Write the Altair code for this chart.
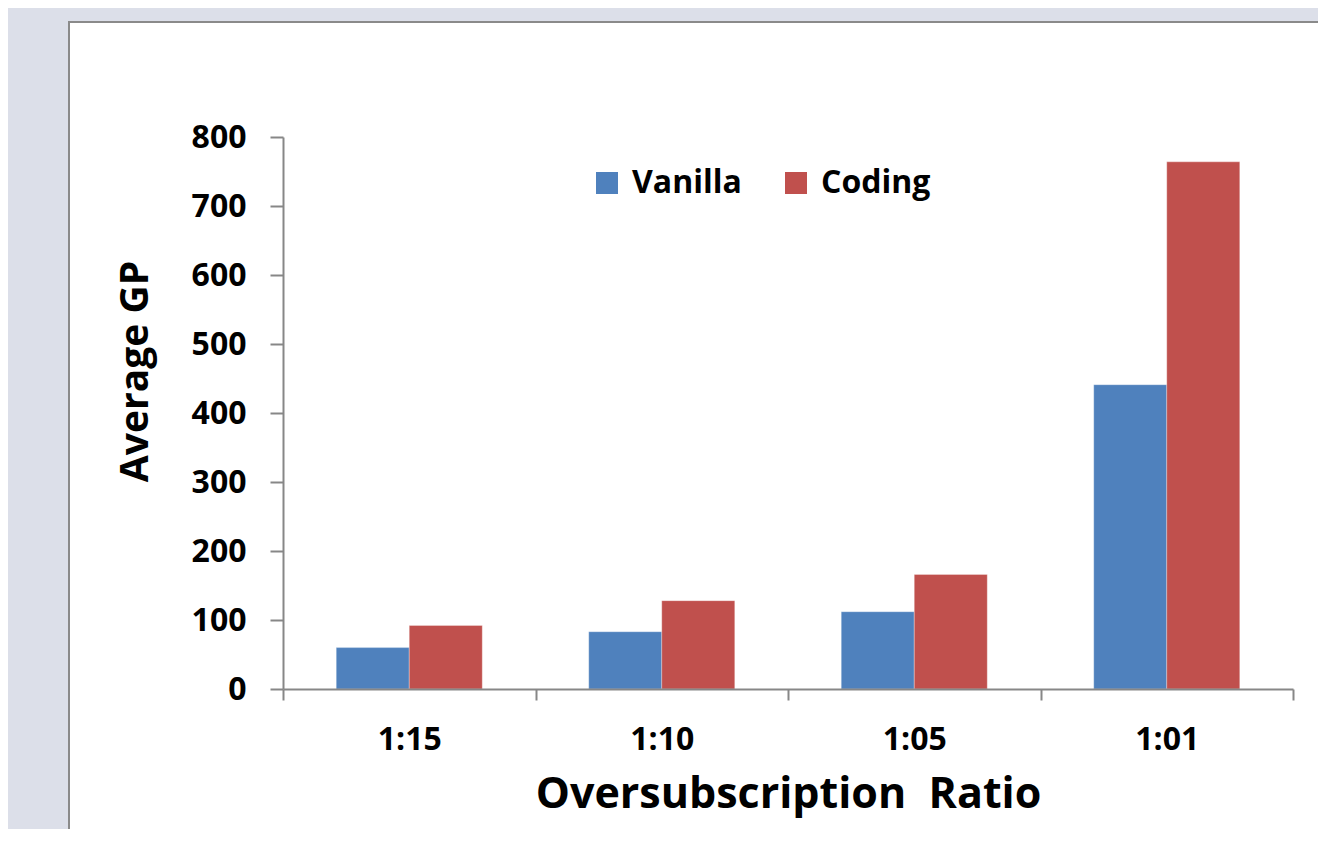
import altair as alt
import pandas as pd

ratios = ["1:15", "1:10", "1:05", "1:01"]
vanilla = [60, 83, 112, 441]
coding = [92, 128, 166, 764]
series = ["Vanilla", "Coding"]
colors = ["#4f81bd", "#c0504d"]
y_ticks = [0, 100, 200, 300, 400, 500, 600, 700, 800]

rows = []
for r, v, c in zip(ratios, vanilla, coding):
    rows.append({"ratio": r, "series": "Vanilla", "value": v})
    rows.append({"ratio": r, "series": "Coding", "value": c})
df = pd.DataFrame(rows)

FONT = "Open Sans"
AXIS_GRAY = "#878787"

panel = alt.Chart(pd.DataFrame({"p": [1]})).mark_rect(
    fill="white", stroke="#8a8a8a", strokeWidth=2
).encode(
    x=alt.value(-214), x2=alt.value(1060),
    y=alt.value(-115), y2=alt.value(740),
)

bars = alt.Chart(df).mark_bar(
    stroke="white", strokeOpacity=0.3, strokeWidth=1
).encode(
    x=alt.X("ratio:N", sort=ratios,
            scale=alt.Scale(paddingInner=0, paddingOuter=0),
            axis=alt.Axis(title="Oversubscription\u00a0\u00a0Ratio", labelAngle=0,
                          tickBand="extent", tickSize=11, labelPadding=24,
                          labelFontSize=32, titleFontSize=43, titlePadding=18,
                          zindex=2)),
    xOffset=alt.XOffset("series:N", sort=series,
                        scale=alt.Scale(paddingInner=0, paddingOuter=0.729)),
    y=alt.Y("value:Q", scale=alt.Scale(domain=[0, 800], nice=False),
            axis=alt.Axis(title="Average GP", values=y_ticks, grid=False,
                          tickSize=13, labelPadding=24,
                          labelFontSize=32, titleFontSize=39,
                          titleX=-128, titleY=234, zindex=2)),
    color=alt.Color("series:N", sort=series,
                    scale=alt.Scale(domain=series, range=colors),
                    legend=alt.Legend(title=None, orient="none",
                                      direction="horizontal",
                                      legendX=308, legendY=30,
                                      symbolType="square", symbolSize=484,
                                      symbolStrokeWidth=0,
                                      labelFontSize=32, labelFont=FONT,
                                      labelFontWeight="bold",
                                      labelOffset=9, columnPadding=38,
                                      zindex=2)),
)

chart = alt.layer(panel, bars).properties(
    width=1010, height=552,
    background="#dcdfe9",
    autosize=alt.AutoSizeParams(type="none"),
    padding={"left": 275, "top": 129, "right": 25, "bottom": 140},
).configure_view(stroke=None).configure_axis(
    domainColor=AXIS_GRAY, domainWidth=2, tickColor=AXIS_GRAY, tickWidth=2,
    labelFont=FONT, titleFont=FONT, labelFontWeight="bold",
    titleFontWeight="bold", labelColor="black", titleColor="black",
)

chart.save("out.html", embed_options={"renderer": "svg", "actions": False})
